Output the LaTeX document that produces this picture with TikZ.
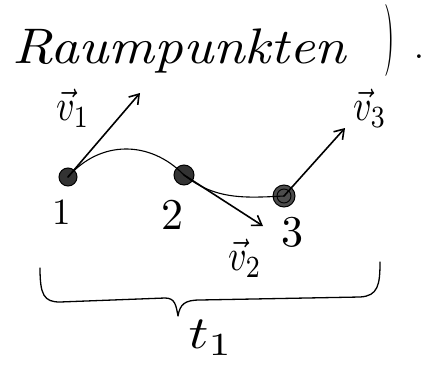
\documentclass[tikz,border=0pt]{standalone}
\usetikzlibrary{arrows.meta}
\newcommand{\mybigmath}[3]{\scalebox{#1}[#2]{$#3$}}
\begin{document}
\begin{tikzpicture}[x=1pt,y=-1pt,
  ink/.style={line width=1.6pt, black, line cap=round, line join=round},
  dot/.style={circle, fill=black!80, draw=black, line width=1pt, inner sep=0pt, minimum size=#1},
  vec/.style={ink, -{Straight Barb[length=9pt,width=12pt]}},
  lbl/.style={inner sep=0pt},
  vlbl/.style={inner sep=0pt}]
\useasboundingbox (0,0) rectangle (430,372);
% heading
\node[inner sep=0pt, anchor=base west] (head) at (12,63) {\scalebox{5.6}[5.0]{\itshape Raumpunkten}};
\node[inner sep=0pt] (paren) at (390,40) {\scalebox{2.6}[7.2]{)}};
\node[inner sep=0pt] (dot) at (419,57) {\scalebox{3.5}{.}};
% points
\node[dot=18pt] (p1) at (68,177) {};
\node[dot=20pt] (p2) at (184,175) {};
\node[dot=22pt, fill=black!70] (p3) at (284,196) {};
\draw[ink, line width=0.9pt] (p3) circle (7pt);
% curve
\draw[ink, line width=1.1pt] (p1.center) .. controls (100,140) and (150,140) .. (p2.center)
  .. controls (215,200) and (245,198) .. (p3.center);
% velocity arrows
\coordinate (e1) at (140,93);
\coordinate (e2) at (263,226);
\coordinate (e3) at (345,128);
\draw[vec] (p1.center) -- (e1);
\draw[vec] (p2.center) -- (e2);
\draw[vec] (p3.center) -- (e3);
% labels
\node[lbl] (n1) at (62,212) {\scalebox{3.7}{1}};
\node[lbl] (n2) at (172,215) {\scalebox{4.4}{2}};
\node[lbl] (n3) at (292,232) {\scalebox{4.4}{3}};
\node[vlbl] (v1) at (73,108) {\mybigmath{3.6}{4.4}{\vec{v}_1}};
\node[vlbl] (v2) at (245,258) {\mybigmath{3.6}{4.4}{\vec{v}_2}};
\node[vlbl] (v3) at (370,108) {\mybigmath{3.6}{4.4}{\vec{v}_3}};
% brace
\coordinate (b1) at (40,268);
\coordinate (b2) at (380,262);
\coordinate (tip) at (178,316);
\draw[ink, line width=1.3pt] (b1) .. controls (40,295) and (44,302) .. (60,302)
  -- (165,298) .. controls (175,298) and (176,305) .. (tip)
  .. controls (180,304) and (185,300) .. (200,300)
  -- (360,297) .. controls (378,296) and (380,285) .. (b2);
\node[vlbl] (t1) at (211,338) {\mybigmath{5.5}{4.6}{t_1}};
\end{tikzpicture}
\end{document}
